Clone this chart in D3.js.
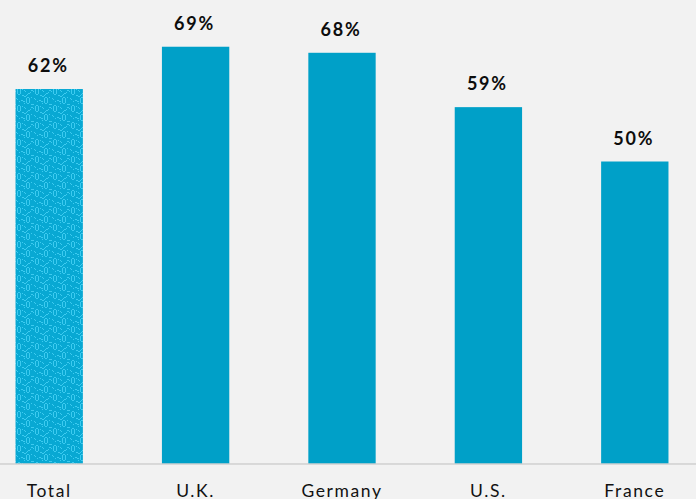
<!DOCTYPE html>
<html>
<head>
<meta charset="utf-8">
<script src="https://cdn.jsdelivr.net/npm/d3@7"></script>
<style>
  html, body { margin: 0; padding: 0; background: #f2f2f2; }
  svg { display: block; }
</style>
</head>
<body>
<svg id="chart" width="696" height="499"></svg>
<script>
// Share of respondents by market
const categories = ["Total", "U.K.", "Germany", "U.S.", "France"];
const values = [62, 69, 68, 59, 50];
const valueLabels = ["62%", "69%", "68%", "59%", "50%"];
const patterned = ["Total"];

const width = 696, height = 499;
const baseline = 463.5;
const svg = d3.select("#chart");

svg.append("rect").attr("width", width).attr("height", height).attr("fill", "#f2f2f2");

// Woven texture used for the aggregate bar
const defs = svg.append("defs");
const pat = defs.append("pattern")
  .attr("id", "weave")
  .attr("patternUnits", "userSpaceOnUse")
  .attr("width", 18).attr("height", 17)
  .attr("x", 15).attr("y", 88);
pat.append("rect").attr("width", 18).attr("height", 17).attr("fill", "#08a8d3");
// light strokes: paired vertical bars plus a wavy diagonal link
const cells = [
  [2,1,1,5],[5,1,1,5],[3,0,2,1],[3,6,2,1],
  [7,7,2,1],[9,8,2,1],[11,7,1,1],[12,6,1,1],[13,5,2,1],[15,4,1,1],
  [11,10,1,5],[14,10,1,5],[12,9,2,1],[12,15,2,1],
  [16,16,2,1],[0,16,1,1],[6,12,2,1],[8,13,2,1],[16,2,2,1],[0,3,1,1],
  [9,2,1,1],[10,3,1,1],[1,10,1,1],[2,11,1,1],
  [7,1,1,1],[16,9,1,1],[4,13,1,1],[9,15,1,1]
];
pat.selectAll("rect.c").data(cells).join("rect")
  .attr("class", "c")
  .attr("x", d => d[0]).attr("y", d => d[1])
  .attr("width", d => d[2]).attr("height", d => d[3])
  .attr("fill", "#3dcbf0");

const x = d3.scaleBand().domain(categories).range([-24, 708]).paddingInner(0.54).paddingOuter(0.27);
const y = d3.scaleLinear().domain([0, 100]).range([baseline, baseline - 604]);

svg.selectAll("rect.bar").data(categories).join("rect")
  .attr("class", "bar")
  .attr("x", d => x(d))
  .attr("width", x.bandwidth())
  .attr("y", (d, i) => y(values[i]))
  .attr("height", (d, i) => baseline - y(values[i]))
  .attr("fill", d => patterned.includes(d) ? "url(#weave)" : "#00a0c8");

// Value labels above each bar
svg.selectAll("text.val").data(categories).join("text")
  .attr("class", "val")
  .attr("x", d => x(d) + x.bandwidth() / 2 - 1)
  .attr("y", (d, i) => y(values[i]) - 17)
  .attr("text-anchor", "middle")
  .attr("font-family", "Lato, 'Open Sans', sans-serif")
  .attr("font-weight", "bold")
  .attr("font-size", 18)
  .attr("letter-spacing", 1.8)
  .attr("fill", "#0d0d0d")
  .text((d, i) => valueLabels[i]);

// Category axis
const axis = d3.axisBottom(x).tickSize(0).tickPadding(0);
const g = svg.append("g").attr("transform", `translate(0,${baseline})`).call(axis);
g.select(".domain").remove();
g.append("line").attr("x1", 0).attr("x2", width).attr("y1", 0.5).attr("y2", 0.5)
  .attr("stroke", "#bfbfbf").attr("stroke-width", 1);
g.selectAll(".tick text")
  .attr("dy", 0).attr("y", 33)
  .attr("font-family", "Lato, 'Open Sans', sans-serif")
  .attr("font-size", 17.5)
  .attr("letter-spacing", 1.6)
  .attr("fill", "#111");
</script>
</body>
</html>
